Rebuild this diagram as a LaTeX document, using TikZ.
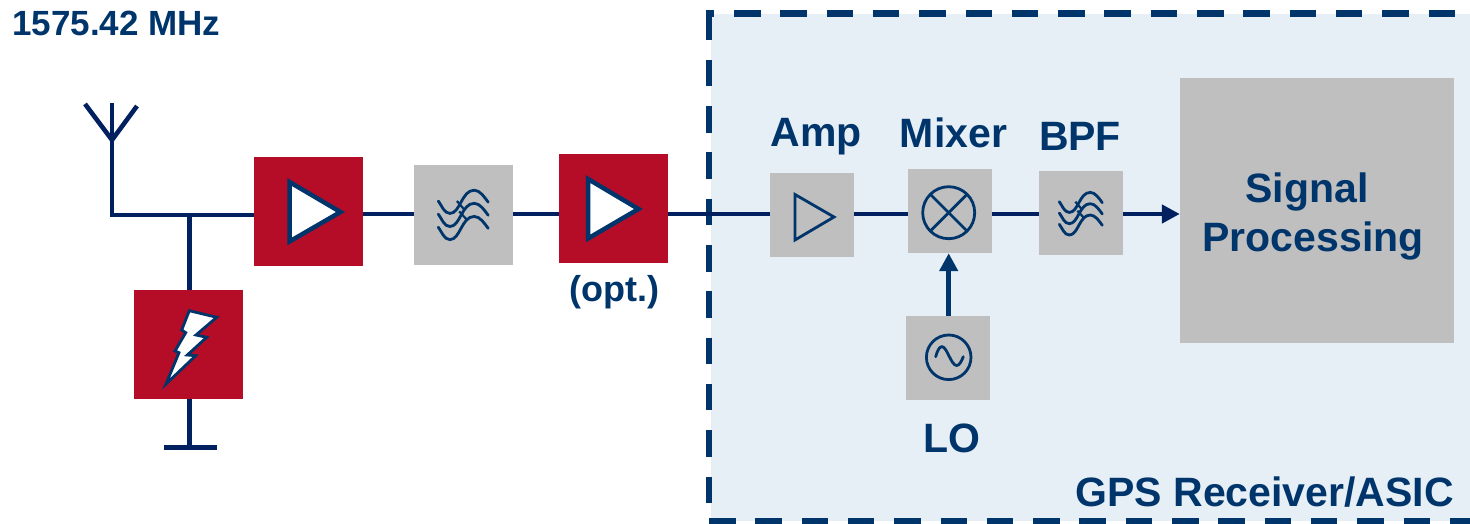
\documentclass[tikz,border=0pt]{standalone}
\usepackage{fontspec}
\setmainfont{Liberation Sans}
\usetikzlibrary{arrows.meta}
\definecolor{txtnavy}{HTML}{00356B}
\definecolor{wirenavy}{HTML}{002060}
\definecolor{redblock}{HTML}{B50D28}
\definecolor{grayblock}{HTML}{BFBFBF}
\definecolor{panel}{HTML}{E6EEF6}
\tikzset{
  x=1pt,y=-1pt,
  redbox/.style={fill=redblock,draw=none,inner sep=0pt,minimum width=109pt,minimum height=109pt},
  graybox/.style={fill=grayblock,draw=none,inner sep=0pt,minimum width=84pt,minimum height=84pt},
  wire/.style={draw=wirenavy,line width=4.6pt},
  framedash/.style={draw=txtnavy,line width=6.5pt,dash pattern=on 26.5pt off 19.8pt},
  ampwhite/.style={draw=txtnavy,fill=white,line width=4.5pt,miter limit=10},
  iconline/.style={draw=txtnavy,line width=2.8pt},
  lbl/.style={text=txtnavy,font=\fontsize{41}{41}\selectfont\bfseries,inner sep=0pt,anchor=base},
  filtericon/.pic={
    \foreach \d in {0,11.3,22.6}{
      \draw[iconline,line cap=round] (0,\d) .. controls (3,4+\d) and (5,10.7+\d) .. (10,10.7+\d)
        .. controls (19,10.7+\d) and (20,-9.3+\d) .. (31,-9.3+\d)
        .. controls (36,-9.3+\d) and (40,-3+\d) .. (43,1+\d);
    }
    \draw[iconline,line width=2.2pt] (16,0) -- (22.5,7.5);
    \draw[iconline,line width=2.2pt] (18,9) -- (24.5,16);
  },
}
\begin{document}
\begin{tikzpicture}
\useasboundingbox (0,0) rectangle (1470,524);
% panel and dashed frame
\fill[panel] (711,14) rectangle (1470,521);
\draw[framedash] (709,13.5) -- (709,521);
\draw[framedash] (734,13.5) -- (1470,13.5);
\draw[framedash] (709,521) -- (1470,521);
\fill[txtnavy] (705.7,10.2) rectangle (714.2,16.8);
% blocks
\node[redbox] (lnaone) at (308.5,211.4) {};
\node[redbox] (esd) at (188.5,344.5) {};
\node[graybox,minimum width=99pt,minimum height=100pt] (filtone) at (463.5,215) {};
\node[redbox] (lnatwo) at (613.5,208.5) {};
\node[graybox] (amp) at (812,215) {};
\node[graybox] (mixer) at (950,211) {};
\node[graybox] (bpf) at (1081,213) {};
\node[graybox] (lo) at (948,358) {};
\node[graybox,minimum width=274pt,minimum height=265pt] (sp) at (1317,210.5) {};
% connector helpers
\coordinate (mainy) at (0,214);
\coordinate (antbase) at (112,215);
\coordinate (anttop) at (112,103);
\coordinate (antl) at (85,104);
\coordinate (antr) at (137,106);
\coordinate (antv) at (112,140);
\coordinate (junc) at (189.5,215);
\coordinate (gnd) at (189.5,447);
\coordinate (gndl) at (164,447);
\coordinate (gndr) at (217,447);
% connectors
\draw[wire,line join=miter] (anttop) -- (antbase) -- (antbase -| lnaone.west);
\draw[wire] (antl) -- (antv) -- (antr);
\draw[wire] (junc) -- (junc |- esd.north);
\draw[wire] (gnd |- esd.south) -- (gnd);
\draw[wire,line width=5pt] (gndl) -- (gndr);
\draw[wire] (mainy -| lnaone.east) -- (mainy -| filtone.west);
\draw[wire] (mainy -| filtone.east) -- (mainy -| lnatwo.west);
\draw[wire] (mainy -| lnatwo.east) -- (mainy -| amp.west);
\draw[wire] (mainy -| amp.east) -- (mainy -| mixer.west);
\draw[wire] (mainy -| mixer.east) -- (mainy -| bpf.west);
\draw[wire,-{Triangle[length=18pt,width=18pt]}] (mainy -| bpf.east) -- (mainy -| sp.west);
\coordinate (lotap) at (948.7,300);
\draw[draw=txtnavy,line width=4.6pt,-{Triangle[length=18pt,width=18pt]}] (lotap |- lo.north) -- (lotap |- mixer.south);
% amplifier icons
\draw[ampwhite] (289.5,182) -- (340.5,212) -- (289.5,241.5) -- cycle;
\draw[ampwhite] (588,179) -- (638.5,209) -- (588,238.5) -- cycle;
\draw[iconline] (795,194.5) -- (834,217) -- (795,240) -- cycle;
% filter icons
\pic[scale=1.16] at (438.3,201) {filtericon};
\pic at (1059.3,201.7) {filtericon};
% mixer icon
\draw[iconline] (948.7,212.7) circle (26);
\draw[iconline] (930.3,194.3) -- (967.1,231.1);
\draw[iconline] (930.3,231.1) -- (967.1,194.3);
% LO icon
\draw[iconline] (948.7,357.3) circle (22.3);
\draw[iconline,line cap=round] (935.7,356.7) .. controls (937.5,350) and (939.5,346.7) .. (942,346.7)
  .. controls (947,346.7) and (951,365.5) .. (956.7,365.5) .. controls (959.5,365.5) and (961.5,361) .. (963.3,356.7);
% lightning bolt
\draw[draw=txtnavy,fill=white,line width=2.8pt,miter limit=10]
  (189.3,310.7) -- (216.7,317.3) -- (196,335) -- (206.7,337.3) -- (187.3,355) -- (195.7,355.7)
  -- (166,384) -- (179,352.7) -- (175,351) -- (185.7,332.7) -- (181.7,330) -- cycle;
% labels
\node[lbl,font=\fontsize{35}{35}\selectfont\bfseries,anchor=base west] (freq) at (12,36) {1575.42 MHz};
\node[lbl] (amplbl) at (816,147) {Amp};
\node[lbl] (mixlbl) at (953.5,148) {Mixer};
\node[lbl] (bpflbl) at (1080,151) {BPF};
\node[lbl] (splblone) at (1307,202) {Signal};
\node[lbl] (splbltwo) at (1313,251) {Processing};
\node[lbl,font=\fontsize{36}{36}\selectfont\bfseries] (optlbl) at (614,301) {(opt.)};
\node[lbl] (lolbl) at (951.5,452) {LO};
\node[lbl,anchor=base east] (gpslbl) at (1454,506) {GPS Receiver/ASIC};
\end{tikzpicture}
\end{document}
